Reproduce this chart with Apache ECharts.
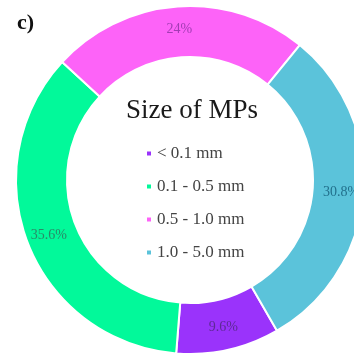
<!DOCTYPE html>
<html>
<head>
<meta charset="utf-8">
<script src="https://cdn.jsdelivr.net/npm/echarts@6/dist/echarts.min.js"></script>
<style>
  html, body { margin: 0; padding: 0; background: #fff; }
  #chart { width: 354px; height: 355px; }
</style>
</head>
<body>
<div id="chart"></div>
<script>
// size classes, in clockwise order from the bottom
var sizeClasses = ['< 0.1 mm', '0.1 - 0.5 mm', '0.5 - 1.0 mm', '1.0 - 5.0 mm'];
var shares = [9.6, 35.6, 24, 30.8];
var sliceColors = ['#9a33fb', '#02f99a', '#fd63f8', '#5bc3da'];
var labelColors = ['#5e2a96', '#2a8a68', '#a23cb4', '#22708c'];

var myChart = echarts.init(document.getElementById('chart'));

var pieData = [];
for (var i = 0; i < sizeClasses.length; i++) {
    pieData.push({
        name: sizeClasses[i],
        value: shares[i],
        itemStyle: { color: sliceColors[i] },
        label: { color: labelColors[i] }
    });
}

var option = {
    animation: false,
    backgroundColor: '#fff',
    title: [{
        text: 'c)',
        left: 12,
        top: 7,
        textStyle: { fontFamily: 'Liberation Serif', fontWeight: 'bold', fontSize: 22, color: '#111' }
    }, {
        text: 'Size of MPs',
        left: 121,
        top: 92,
        textStyle: { fontFamily: 'Liberation Serif', fontWeight: 'normal', fontSize: 27, color: '#1a1a1a' }
    }],
    legend: {
        orient: 'vertical',
        left: 140,
        top: 140,
        itemWidth: 6,
        itemHeight: 6,
        itemGap: 16,
        icon: 'rect',
        selectedMode: false,
        textStyle: { fontFamily: 'Liberation Serif', fontSize: 17, color: '#444' },
        data: sizeClasses
    },
    series: [{
        type: 'pie',
        center: [190, 180],
        radius: [123, 174],
        startAngle: -60,
        clockwise: true,
        silent: true,
        itemStyle: { borderColor: '#fff', borderWidth: 2 },
        label: {
            show: true,
            position: 'inside',
            formatter: '{c}%',
            fontFamily: 'Liberation Serif',
            fontSize: 14
        },
        labelLine: { show: false },
        data: pieData
    }]
};
myChart.setOption(option);
</script>
</body>
</html>
